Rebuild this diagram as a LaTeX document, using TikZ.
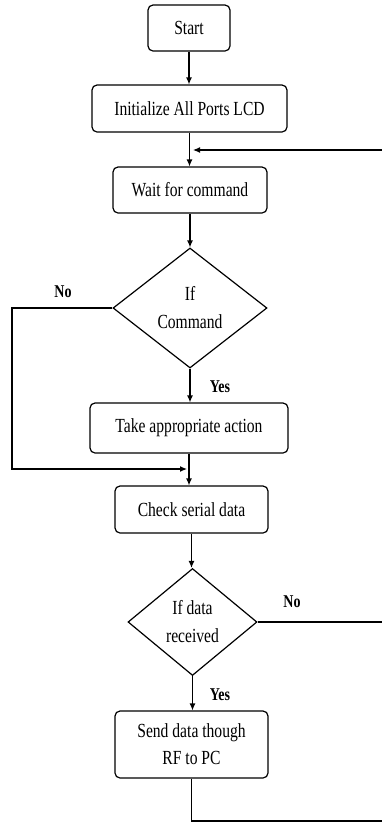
\documentclass[tikz,border=0pt]{standalone}
\usepackage{fontspec}
\setmainfont{Liberation Serif}[FakeStretch=0.78]
\usetikzlibrary{shapes.geometric,arrows.meta}
\tikzset{
  box/.style={draw, rounded corners=5pt, line width=1.2pt, inner sep=0pt, align=center, font=\fontsize{20}{27}\selectfont},
  dec/.style={draw, diamond, line width=1.2pt, inner sep=0pt, align=center, font=\fontsize{20}{28}\selectfont},
  lbl/.style={font=\fontsize{18}{20}\selectfont\bfseries, inner sep=0pt},
  arr/.style={line width=1.2pt, -{Latex[length=7pt,width=6pt]}},
  ln/.style={line width=1.2pt}
}
\begin{document}
\begin{tikzpicture}[x=1pt,y=-1pt]
\useasboundingbox (0,0) rectangle (381,823);
\node[box, minimum width=82pt, minimum height=46pt] (start) at (189,28) {Start};
\node[box, minimum width=195pt, minimum height=47pt] (init) at (189.5,108.5) {Initialize All Ports LCD};
\node[box, minimum width=154pt, minimum height=46pt] (wait) at (190,190) {Wait for command};
\node[dec, minimum width=154pt, minimum height=120pt] (dec1) at (190,308) {If\\Command};
\node[box, minimum width=198pt, minimum height=50pt] (take) at (189,428) {Take appropriate action};
\node[box, minimum width=153pt, minimum height=47pt] (check) at (191.5,509.5) {Check serial data};
\node[dec, minimum width=129pt, minimum height=107pt] (dec2) at (192.5,622) {If data\\received};
\node[box, minimum width=153pt, minimum height=67pt] (send) at (191.5,744.5) {Send data though\\RF to PC};

\node[lbl] (no1) at (63,292) {No};
\node[lbl] (yes1) at (220,387) {Yes};
\node[lbl] (no2) at (292,602) {No};
\node[lbl] (yes2) at (220,695) {Yes};

\coordinate (merge1) at (193,150);
\coordinate (merge2) at (187,469);
\coordinate (lx) at (12,308);
\coordinate (rb) at (396,821);

\draw[arr] (start.south) -- (start.south |- init.north);
\draw[arr] (init.south) -- (init.south |- wait.north);
\draw[arr] (wait.south) -- (wait.south |- dec1.north);
\draw[arr] (dec1.south) -- (dec1.south |- take.north);
\draw[arr] (take.south) -- (take.south |- check.north);
\draw[arr] (check.south) -- (check.south |- dec2.north);
\draw[arr] (dec2.south) -- (dec2.south |- send.north);
\draw[arr] (dec1.west) -- (lx) |- (merge2);
\draw[ln] (dec2.east) -- (dec2.east -| rb);
\draw[arr] (send.south) |- (rb) |- (merge1);
\end{tikzpicture}
\end{document}
